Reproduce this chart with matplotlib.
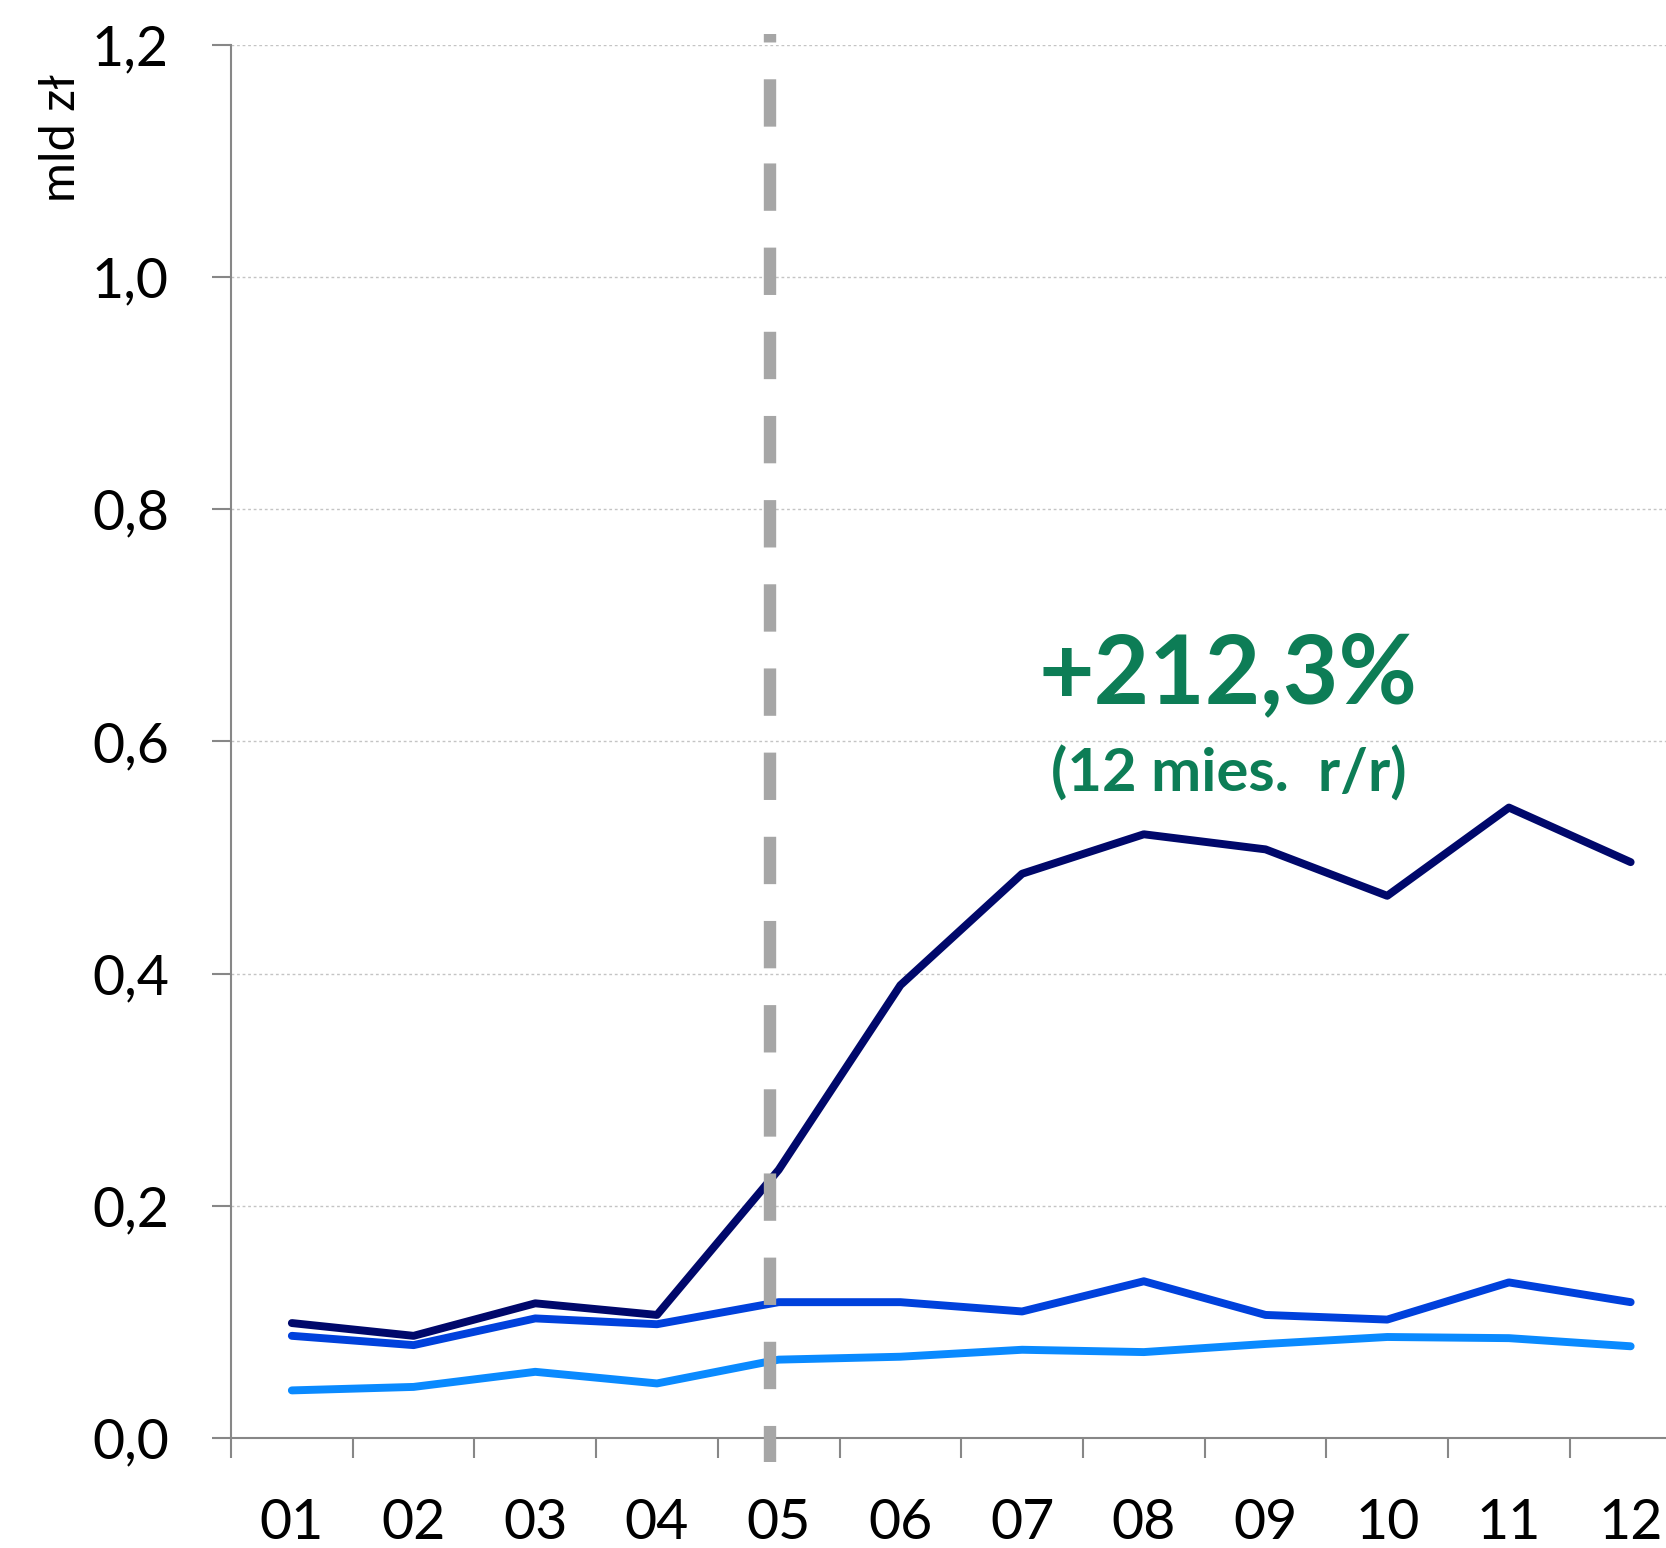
import matplotlib
matplotlib.use("Agg")
import matplotlib.pyplot as plt
import numpy as np

months = ["01", "02", "03", "04", "05", "06", "07", "08", "09", "10", "11", "12"]
series_navy = [0.099, 0.088, 0.116, 0.106, 0.231, 0.390, 0.486, 0.520, 0.507, 0.467, 0.543, 0.496]
series_blue = [0.088, 0.080, 0.103, 0.098, 0.117, 0.117, 0.109, 0.135, 0.106, 0.102, 0.134, 0.117]
series_light = [0.041, 0.044, 0.057, 0.047, 0.0675, 0.070, 0.076, 0.074, 0.081, 0.087, 0.086, 0.079]
yticks = [0.0, 0.2, 0.4, 0.6, 0.8, 1.0, 1.2]
ytick_labels = ["0,0", "0,2", "0,4", "0,6", "0,8", "1,0", "1,2"]
ylabel = "mld zł"
note_main = "+212,3%"
note_sub = "(12 mies.  r/r)"
marker_x = 3.93

plt.rcParams['font.family'] = ['Lato', 'DejaVu Sans']
plt.rcParams['lines.scale_dashes'] = False

W, H = 1666, 1548
fig = plt.figure(figsize=(W / 100, H / 100), dpi=100)
ax = fig.add_axes([231 / W, 110 / H, (1691.5 - 231) / W, (1438.2 - 45) / H])

x = np.arange(len(months))
ax.plot(x, series_light, color="#0A8AFF", lw=5.7, solid_capstyle="round", solid_joinstyle="round", zorder=3)
ax.plot(x, series_blue, color="#0041DC", lw=5.7, solid_capstyle="round", solid_joinstyle="round", zorder=4)
ax.plot(x, series_navy, color="#00086B", lw=5.7, solid_capstyle="round", solid_joinstyle="round", zorder=5)

# dashed vertical marker
ax.plot([marker_x, marker_x], [1.2092, -0.0205], color="#A6A6A6", lw=8.9,
        linestyle=(28.0, (34.1, 26.5)), dash_capstyle="butt", clip_on=False, zorder=6)

ax.set_xlim(-0.5, 11.5)
ax.set_ylim(0, 1.2)

ax.set_yticks(yticks)
ax.set_yticklabels(ytick_labels)
ax.set_xticks(x)
ax.set_xticklabels(months)
ax.set_xticks(np.arange(-0.5, 12, 1), minor=True)

ax.tick_params(axis="x", which="major", length=0, pad=43, labelsize=40)
ax.tick_params(axis="x", which="minor", length=14.4, width=1.5, color="#878787", direction="out")
ax.tick_params(axis="y", which="major", length=13.7, width=1.5, color="#878787", direction="out",
               pad=31, labelsize=40)

for s in ["top", "right"]:
    ax.spines[s].set_visible(False)
for s in ["left", "bottom"]:
    ax.spines[s].set_color("#878787")
    ax.spines[s].set_linewidth(1.5)

ax.grid(axis="y", color="#C4C4C4", lw=1.0, linestyle=(0, (2, 2)))
ax.set_axisbelow(True)

fig.text(61 / W, 1 - 138 / H, ylabel, rotation=90, ha="center", va="center", fontsize=35)

fig.text(1228 / W, 1 - 703 / H, note_main, ha="center", va="baseline", fontsize=69,
         fontweight="bold", color="#0D7D56")
fig.text(1229 / W, 1 - 792 / H, note_sub, ha="center", va="baseline", fontsize=43,
         fontweight="bold", color="#0D7D56")

fig.savefig("out.png", dpi=100)
